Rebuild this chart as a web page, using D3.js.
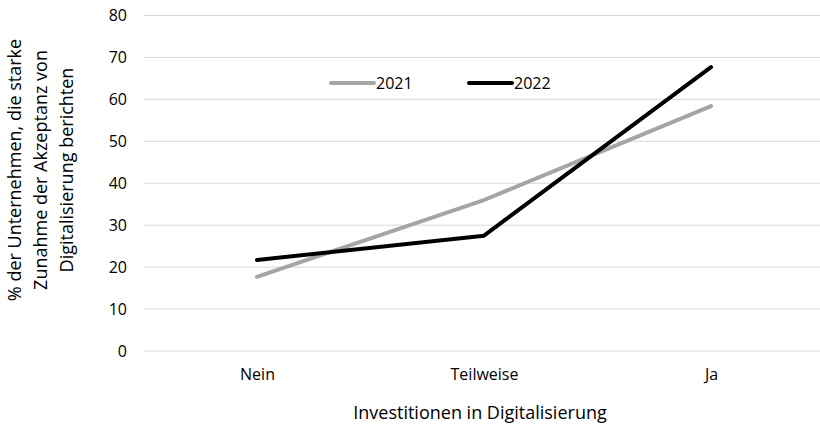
<!DOCTYPE html>
<html><head><meta charset="utf-8">
<script src="https://cdn.jsdelivr.net/npm/d3@7"></script>
<style>body{margin:0;background:#fff}svg{display:block}text{font-family:"Open Sans",sans-serif;fill:#000}</style>
</head><body><svg id="c" width="820" height="427"></svg>
<script>
const categories = ["Nein", "Teilweise", "Ja"];
const values2021 = [17.7, 36.0, 58.4];
const values2022 = [21.7, 27.5, 67.7];
const seriesNames = ["2021", "2022"];
const yTicks = [0, 10, 20, 30, 40, 50, 60, 70, 80];

const svg = d3.select("#c");
const x = d3.scalePoint().domain(categories).range([257, 711]);
const y = d3.scaleLinear().domain([0, 80]).range([351, 15.5]);

// gridlines
svg.append("g").selectAll("line").data(yTicks).join("line")
  .attr("x1", 144).attr("x2", 820)
  .attr("y1", d => y(d)).attr("y2", d => y(d))
  .attr("stroke", "#d9d9d9").attr("stroke-width", 1);

// y axis
const ya = svg.append("g").attr("transform", "translate(144,0)")
  .call(d3.axisLeft(y).tickValues(yTicks).tickSize(0).tickPadding(17));
ya.select(".domain").remove();
ya.selectAll("text").style("font-size", "16px").style("font-family", "'Open Sans', sans-serif");

// x axis
const xa = svg.append("g").attr("transform", "translate(0,351)")
  .call(d3.axisBottom(x).tickSize(0).tickPadding(18));
xa.select(".domain").remove();
xa.selectAll("text").style("font-size", "16px").style("font-family", "'Open Sans', sans-serif");

const line = d3.line().x((d, i) => x(categories[i])).y(d => y(d));
const colors = ["#a5a5a5", "#000000"];
[values2021, values2022].forEach((vals, k) => {
  svg.append("path").datum(vals).attr("d", line)
    .attr("fill", "none").attr("stroke", colors[k]).attr("stroke-width", 4)
    .attr("stroke-linecap", "round").attr("stroke-linejoin", "round");
});

// legend
const legX = [331, 469];
seriesNames.forEach((n, k) => {
  svg.append("line").attr("x1", legX[k]).attr("x2", legX[k] + 43)
    .attr("y1", 83).attr("y2", 83).attr("stroke", colors[k]).attr("stroke-width", 4)
    .attr("stroke-linecap", "round");
  svg.append("text").attr("x", legX[k] + 45).attr("y", 89)
    .style("font-size", "16px").text(n);
});

// axis titles
svg.append("text").attr("x", 480).attr("y", 419).attr("text-anchor", "middle")
  .style("font-size", "18px").text("Investitionen in Digitalisierung");
const yt = svg.append("text").attr("transform", "translate(0,170) rotate(-90)")
  .attr("text-anchor", "middle").style("font-size", "18px");
["% der Unternehmen, die starke", "Zunahme der Akzeptanz von", "Digitalisierung berichten"]
  .forEach((t, i) => yt.append("tspan").attr("x", 0).attr("y", 21 + i * 26).text(t));
</script></body></html>
